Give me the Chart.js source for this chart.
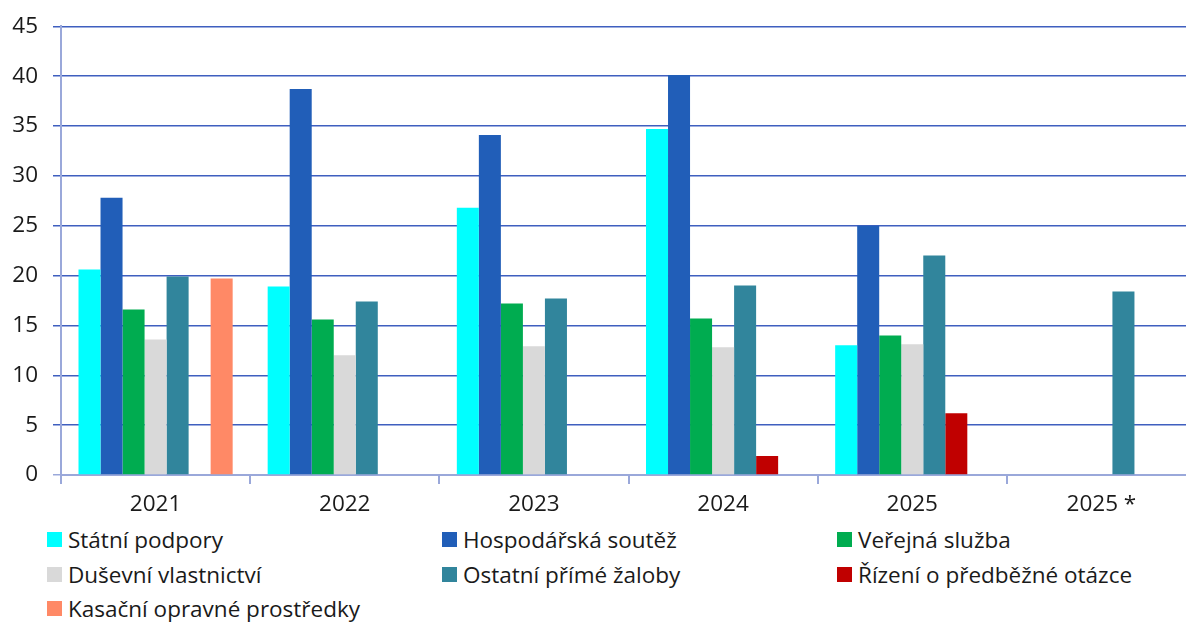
<!DOCTYPE html>
<html lang="cs">
<head>
<meta charset="utf-8">
<script src="https://cdn.jsdelivr.net/npm/chart.js@4"></script>
<style>
    html, body { margin: 0; padding: 0; background: #fff; overflow: hidden; }
    body { width: 1186px; height: 622px; font-family: "Open Sans", sans-serif; color: #1a1a1a; }
    #wrap { position: relative; width: 1196px; height: 524px; }
    #legend {
        position: absolute; left: 47px; top: 527px;
        display: grid; grid-template-columns: 395px 395px 350px;
        row-gap: 9.5px; font-size: 22.5px;
    }
    .item { display: flex; align-items: center; height: 25px; white-space: nowrap; }
    .sw { width: 15px; height: 15px; margin-right: 6px; flex: none; }
</style>
</head>
<body>
<div id="wrap"><canvas id="c"></canvas></div>
<div id="legend"></div>
<script>
// kategorie (roky)
const years = ['2021', '2022', '2023', '2024', '2025', '2025 *'];

// hodnoty jednotlivých řad
const statniPodpory = [20.6, 18.9, 26.8, 34.7, 13.0, null];
const hospodarskaSoutez = [27.8, 38.7, 34.1, 40.1, 25.0, null];
const verejnaSluzba = [16.6, 15.6, 17.2, 15.7, 14.0, null];
const dusevniVlastnictvi = [13.6, 12.0, 12.9, 12.8, 13.1, null];
const ostatniZaloby = [19.9, 17.4, 17.7, 19.0, 22.0, 18.4];
const predbezneOtazky = [null, null, null, 1.9, 6.2, null];
const kasacniProstredky = [19.7, null, null, null, null, null];

const seriesNames = [
    'Státní podpory', 'Hospodářská soutěž', 'Veřejná služba',
    'Duševní vlastnictví', 'Ostatní přímé žaloby', 'Řízení o předběžné otázce',
    'Kasační opravné prostředky',
];
const seriesData = [
    statniPodpory, hospodarskaSoutez, verejnaSluzba,
    dusevniVlastnictvi, ostatniZaloby, predbezneOtazky, kasacniProstredky,
];
const seriesColors = ['#00FFFF', '#215EB8', '#00AC50', '#D9D9D9', '#31859C', '#C00000', '#FF8966'];

const GRID = '#3F5FBF';
const AXIS = '#9AA8DA';

const canvas = document.getElementById('c');
canvas.width = 1196;
canvas.height = 524;

new Chart(canvas.getContext('2d'), {
    type: 'bar',
    data: {
        labels: years,
        datasets: seriesData.map((d, i) => ({
            label: seriesNames[i],
            data: d,
            backgroundColor: seriesColors[i],
            borderWidth: 0,
            categoryPercentage: 0.815,
            barPercentage: 1.0,
        })),
    },
    options: {
        responsive: false,
        animation: false,
        layout: { padding: { top: 26, left: 0, right: 0, bottom: 0 } },
        plugins: { legend: { display: false }, tooltip: { enabled: false } },
        scales: {
            x: {
                afterFit: (s) => { s.height = 49; },
                grid: {
                    offset: true, drawOnChartArea: false, drawTicks: true,
                    tickLength: 9, color: AXIS, lineWidth: 2,
                },
                border: { display: true, color: AXIS, width: 2 },
                ticks: {
                    color: '#1a1a1a', padding: 7,
                    font: { family: 'Open Sans', size: 22.5 },
                },
            },
            y: {
                min: 0, max: 45,
                afterFit: (s) => { s.width = 61; },
                grid: {
                    color: (ctx) => ctx.tick && ctx.tick.value === 0 ? AXIS : GRID,
                    lineWidth: 1.5, tickLength: 8,
                },
                border: { display: true, color: AXIS, width: 2 },
                ticks: {
                    stepSize: 5, color: '#1a1a1a', padding: 15,
                    font: { family: 'Open Sans', size: 22.5, lineHeight: 1.0 },
                },
            },
        },
    },
});

// legenda ve třech sloupcích
document.getElementById('legend').innerHTML = seriesNames.map((n, i) => `
    <div class="item"><span class="sw" style="background:${seriesColors[i]}"></span>${n}</div>
`).join('');
</script>
</body>
</html>
